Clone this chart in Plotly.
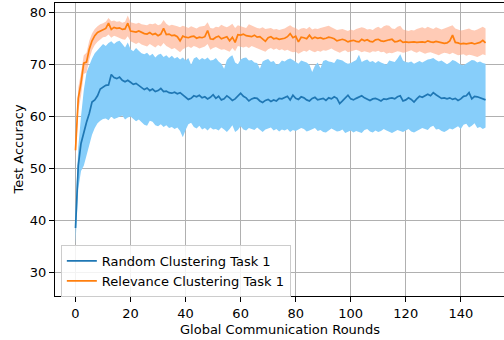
import plotly.graph_objects as go

rounds = list(range(150))

random_mean = [
    38.5, 50.5, 54.8, 57.0, 58.9, 60.6, 62.8, 63.2, 64.0, 65.3,
    65.6, 66.0, 66.1, 68.1, 67.5, 67.3, 67.6, 67.0, 66.7, 67.0,
    66.6, 66.2, 66.4, 66.0, 65.6, 65.2, 65.5, 65.0, 65.3, 64.8,
    65.0, 65.4, 64.8, 64.9, 64.6, 64.5, 64.7, 64.4, 64.6, 64.2,
    63.8, 63.3, 63.5, 64.0, 63.8, 64.1, 63.6, 63.8, 63.4, 63.7,
    64.2, 63.5, 63.9, 63.2, 63.4, 64.0, 63.6, 63.1, 63.4, 64.0,
    64.5, 63.9, 63.6, 63.0, 63.4, 63.6, 63.5, 63.0, 62.7, 63.1,
    63.3, 62.9, 63.2, 63.0, 63.5, 63.4, 63.6, 63.9, 63.2, 64.1,
    63.5, 63.3, 63.8, 63.6, 63.2, 63.0, 63.5, 63.7, 63.2, 63.4,
    63.5, 63.1, 63.6, 63.4, 63.8, 63.5, 62.5, 63.0, 63.6, 64.1,
    63.4, 63.2, 63.5, 63.8, 64.0, 63.6, 63.3, 63.1, 63.4, 63.5,
    63.3, 63.0, 63.4, 63.3, 63.5, 63.6, 63.4, 63.8, 64.0, 63.0,
    63.2, 63.6, 63.3, 62.8, 63.4, 63.9, 63.7, 64.0, 64.3, 64.0,
    64.6, 64.2, 63.8, 63.5, 63.6, 63.4, 63.6, 63.3, 63.5, 63.1,
    63.4, 63.9, 64.0, 64.6, 63.4, 63.9, 63.8, 63.6, 63.5, 63.2,
]
random_upper = [
    41.5, 54.0, 60.0, 65.0, 68.5, 70.0, 71.2, 72.2, 72.8, 73.4,
    74.0, 73.6, 74.2, 74.5, 74.0, 74.4, 74.6, 74.0, 73.3, 74.3,
    73.0, 72.6, 73.2, 72.7, 72.2, 72.0, 72.3, 71.7, 72.1, 71.4,
    71.9, 72.1, 71.5, 71.8, 71.3, 71.7, 71.2, 71.5, 71.0, 71.4,
    70.8, 71.3, 70.0, 71.2, 71.5, 70.9, 71.3, 71.0, 71.4, 70.8,
    70.9, 71.3, 70.6, 70.2, 69.2, 70.9, 71.5, 71.8, 70.4, 70.1,
    71.0, 71.3, 71.4, 70.8, 70.9, 70.4, 70.3, 69.2, 70.6, 70.9,
    71.1, 70.5, 70.7, 70.0, 70.2, 70.8, 70.6, 71.0, 71.2, 70.9,
    70.5, 70.2, 70.8, 70.6, 70.4, 70.0, 68.6, 69.8, 70.4, 69.3,
    70.7, 70.9, 70.6, 70.5, 70.3, 71.1, 71.0, 70.8, 70.4, 70.2,
    70.3, 70.6, 70.9, 71.9, 70.5, 70.8, 71.0, 70.5, 70.7, 70.3,
    70.7, 70.4, 70.2, 70.0, 70.8, 70.6, 70.5, 71.2, 72.0, 70.8,
    70.5, 70.4, 70.6, 70.2, 70.5, 70.7, 70.4, 70.7, 71.0, 71.1,
    71.3, 70.9, 70.6, 70.8, 70.5, 70.1, 70.4, 70.9, 70.7, 70.3,
    70.0, 69.9, 70.2, 70.6, 70.9, 70.8, 70.4, 70.6, 70.3, 70.2,
]
random_lower = [
    35.5, 46.0, 49.5, 50.5, 52.5, 54.5, 56.5, 57.8, 58.7, 59.2,
    59.5, 59.6, 59.3, 60.0, 59.5, 59.7, 59.9, 60.2, 59.4, 59.8,
    60.0, 59.6, 59.1, 59.4, 58.9, 58.4, 58.2, 59.2, 59.0, 58.3,
    58.1, 58.5, 58.0, 58.3, 57.8, 58.0, 57.6, 57.9, 57.2, 56.0,
    57.4, 58.5, 58.8, 58.0, 57.7, 58.2, 57.5, 57.8, 57.3, 57.9,
    57.5, 57.6, 57.3, 57.9, 57.5, 57.0, 57.6, 58.3, 57.0, 57.4,
    58.1, 57.5, 57.3, 57.8, 57.6, 57.4, 57.9, 57.5, 57.0, 57.5,
    57.7, 57.9, 57.3, 57.6, 57.1, 57.5, 57.3, 57.6, 57.0, 57.4,
    57.2, 57.5, 57.8, 57.6, 57.1, 57.3, 57.5, 57.8, 57.2, 57.4,
    57.0, 56.9, 57.3, 57.7, 57.4, 57.1, 57.2, 57.5, 56.8, 57.1,
    57.3, 56.9, 57.2, 57.0, 56.8, 57.4, 57.6, 57.1, 56.9, 57.3,
    57.0, 57.2, 57.6, 57.3, 57.0, 56.8, 57.1, 57.4, 57.2, 57.0,
    57.3, 57.6, 57.1, 56.9, 57.2, 57.5, 57.8, 57.6, 57.4, 58.0,
    58.2, 57.5, 57.6, 57.2, 57.0, 57.3, 57.7, 57.5, 57.8, 58.1,
    57.6, 58.4, 58.6, 57.9, 58.2, 58.7, 57.8, 58.0, 57.6, 57.9,
]

relevance_mean = [
    53.5, 63.5, 66.5, 70.3, 70.5, 73.0, 74.6, 75.6, 76.2, 76.5,
    76.8, 77.0, 78.0, 76.8, 77.2, 77.0, 77.1, 76.8, 76.9, 78.0,
    76.5, 76.4, 76.3, 76.5, 76.2, 76.0, 75.9, 76.2, 75.8, 76.0,
    75.6, 75.9, 77.0, 75.8, 75.9, 75.6, 75.7, 75.4, 74.6, 75.5,
    75.3, 75.2, 75.4, 75.5, 75.1, 75.3, 75.2, 75.4, 76.6, 75.0,
    74.9, 75.3, 75.5, 75.0, 75.2, 75.4, 74.6, 75.3, 74.3, 75.8,
    75.7, 75.9, 75.6, 75.5, 75.4, 75.7, 75.3, 75.4, 75.0, 74.5,
    75.2, 75.4, 75.0, 75.1, 74.9, 75.0, 75.1, 75.4, 76.0, 75.2,
    75.5, 74.4, 75.3, 75.2, 75.0, 75.7, 75.0, 75.3, 75.1, 75.2,
    75.0, 75.1, 75.3, 75.2, 75.0, 74.6, 74.8, 74.9, 74.7, 74.4,
    74.6, 74.7, 74.5, 74.4, 74.9, 74.6, 74.8, 74.5, 74.4, 74.8,
    74.9, 74.6, 74.5, 74.7, 74.8, 74.9, 74.4, 74.5, 74.7, 74.3,
    74.4, 74.3, 74.4, 74.4, 74.3, 74.4, 74.4, 74.3, 74.6, 74.4,
    74.3, 74.5, 74.4, 74.3, 74.1, 74.2, 74.6, 75.7, 74.3, 74.2,
    74.0, 74.1, 74.0, 74.1, 74.2, 74.0, 74.1, 74.3, 74.7, 74.2,
]
relevance_upper = [
    55.5, 65.5, 68.5, 71.8, 72.3, 74.6, 76.0, 76.9, 77.4, 77.8,
    78.0, 78.3, 79.0, 78.4, 78.5, 78.3, 78.4, 78.1, 78.3, 79.5,
    78.2, 78.0, 77.9, 78.1, 77.8, 77.7, 77.6, 77.9, 77.8, 78.0,
    77.6, 77.8, 78.6, 77.9, 77.5, 77.7, 77.6, 77.4, 77.2, 77.5,
    77.3, 77.1, 77.4, 77.2, 77.0, 77.3, 77.4, 77.5, 78.2, 77.1,
    77.0, 77.3, 77.2, 77.7, 77.4, 77.2, 77.5, 77.9, 77.1, 77.6,
    77.4, 77.3, 77.1, 77.8, 77.5, 77.3, 77.1, 77.0, 77.2, 76.9,
    77.0, 77.1, 76.8, 76.9, 76.7, 76.8, 77.0, 77.3, 77.6, 77.2,
    77.1, 76.7, 77.0, 77.1, 76.9, 77.3, 76.8, 77.0, 76.9, 77.1,
    77.2, 77.3, 77.5, 77.2, 76.9, 76.7, 76.8, 76.9, 76.7, 76.5,
    76.8, 76.6, 76.9, 77.0, 77.2, 77.1, 76.8, 76.9, 76.7, 77.1,
    77.3, 77.0, 77.4, 77.6, 77.5, 77.0, 76.9, 77.3, 77.5, 76.8,
    76.6, 76.5, 76.7, 76.6, 76.9, 77.0, 77.2, 77.0, 77.3, 77.1,
    76.9, 77.2, 77.0, 76.8, 77.0, 77.2, 77.4, 77.6, 77.0, 76.8,
    76.6, 76.7, 76.9, 77.0, 76.7, 76.6, 76.8, 77.0, 77.3, 77.0,
]
relevance_lower = [
    51.5, 61.0, 64.0, 68.2, 68.5, 71.0, 72.8, 73.8, 74.4, 74.9,
    75.3, 75.4, 75.8, 75.2, 75.6, 75.4, 75.1, 74.9, 74.8, 75.5,
    74.5, 74.2, 74.0, 74.3, 73.9, 73.7, 73.5, 74.0, 73.6, 73.3,
    73.8, 73.5, 74.2, 73.6, 73.3, 73.0, 73.2, 72.7, 72.4, 73.0,
    73.3, 73.5, 73.2, 73.6, 73.4, 73.1, 73.3, 73.5, 74.0, 72.9,
    73.2, 73.4, 73.1, 72.9, 73.0, 72.7, 72.5, 73.2, 72.6, 73.6,
    73.4, 73.3, 73.5, 73.2, 73.6, 73.4, 73.1, 73.0, 72.8, 72.5,
    73.0, 73.2, 72.9, 73.1, 72.8, 73.0, 72.7, 72.9, 72.6, 72.4,
    72.5, 72.1, 72.4, 72.7, 72.5, 72.9, 72.6, 72.4, 72.7, 72.5,
    72.8, 72.7, 72.9, 73.1, 72.8, 72.5, 72.3, 72.6, 72.8, 72.4,
    72.6, 72.8, 72.9, 72.7, 72.4, 72.6, 72.5, 72.3, 72.6, 72.5,
    72.7, 72.4, 72.5, 72.1, 72.3, 72.2, 72.4, 72.6, 72.5, 72.3,
    72.4, 72.6, 72.8, 72.5, 72.3, 72.6, 72.3, 72.1, 72.3, 72.4,
    72.2, 72.0, 71.8, 72.1, 72.3, 72.2, 72.0, 72.3, 72.1, 71.8,
    71.9, 72.0, 71.7, 71.9, 71.8, 71.6, 71.5, 71.7, 72.0, 71.8,
]

x_ticks = [0, 20, 40, 60, 80, 100, 120, 140]
y_ticks = [30, 40, 50, 60, 70, 80]
series_names = ["Random Clustering Task 1", "Relevance Clustering Task 1"]
x_title = "Global Communication Rounds"
y_title = "Test Accuracy"

BLUE = "#1f77b4"
ORANGE = "#ff7f0e"
FONT = "DejaVu Sans"

fig = go.Figure()

fig.add_trace(go.Scatter(x=rounds, y=random_upper, mode="lines", line=dict(width=0),
                         showlegend=False, hoverinfo="skip"))
fig.add_trace(go.Scatter(x=rounds, y=random_lower, mode="lines", line=dict(width=0),
                         fill="tonexty", fillcolor="#87cefa", showlegend=False, hoverinfo="skip"))
fig.add_trace(go.Scatter(x=rounds, y=relevance_upper, mode="lines", line=dict(width=0),
                         showlegend=False, hoverinfo="skip"))
fig.add_trace(go.Scatter(x=rounds, y=relevance_lower, mode="lines", line=dict(width=0),
                         fill="tonexty", fillcolor="rgba(255,160,122,0.55)", showlegend=False,
                         hoverinfo="skip"))

fig.add_trace(go.Scatter(x=rounds, y=random_mean, mode="lines", name=series_names[0],
                         line=dict(color=BLUE, width=1.7)))
fig.add_trace(go.Scatter(x=rounds, y=relevance_mean, mode="lines", name=series_names[1],
                         line=dict(color=ORANGE, width=1.7)))

fig.update_layout(
    width=504, height=340,
    margin=dict(l=55, r=0, t=3, b=44, autoexpand=False),
    plot_bgcolor="white", paper_bgcolor="white",
    font=dict(family=FONT, size=13, color="black"),
    legend=dict(
        x=0.013, y=0.174, xanchor="left", yanchor="top",
        bgcolor="rgba(255,255,255,0.85)", bordercolor="#cccccc", borderwidth=1,
        font=dict(family=FONT, size=13, color="black"),
        traceorder="normal", tracegroupgap=0, itemwidth=30,
    ),
    annotations=[
        dict(text=x_title, xref="paper", yref="paper", x=(280 - 55) / 449, y=-(329 - 295.7) / 293,
             xanchor="center", yanchor="middle", showarrow=False,
             font=dict(family=FONT, size=13, color="black")),
        dict(text=y_title, xref="paper", yref="paper", x=-(55 - 18) / 449, y=0.5,
             xanchor="center", yanchor="middle", showarrow=False, textangle=-90,
             font=dict(family=FONT, size=13, color="black")),
    ],
)
fig.update_xaxes(
    range=[-7.45, 155.7], tickvals=x_ticks, ticktext=[str(t) for t in x_ticks],
    showgrid=True, gridcolor="#b0b0b0", gridwidth=1,
    showline=True, linecolor="black", linewidth=1, mirror=True,
    ticks="outside", ticklen=5, tickcolor="black", zeroline=False,
    automargin=False, tickfont=dict(size=13),
)
fig.update_yaxes(
    range=[25.37, 81.9], tickvals=y_ticks, ticktext=[str(t) for t in y_ticks],
    showgrid=True, gridcolor="#b0b0b0", gridwidth=1,
    showline=True, linecolor="black", linewidth=1,
    ticks="outside", ticklen=5, tickcolor="black", zeroline=False,
    automargin=False, tickfont=dict(size=13),
)

fig.write_html("out.html", config={"displayModeBar": False},
               post_script="document.body.style.margin='0';document.body.style.overflow='hidden';")
